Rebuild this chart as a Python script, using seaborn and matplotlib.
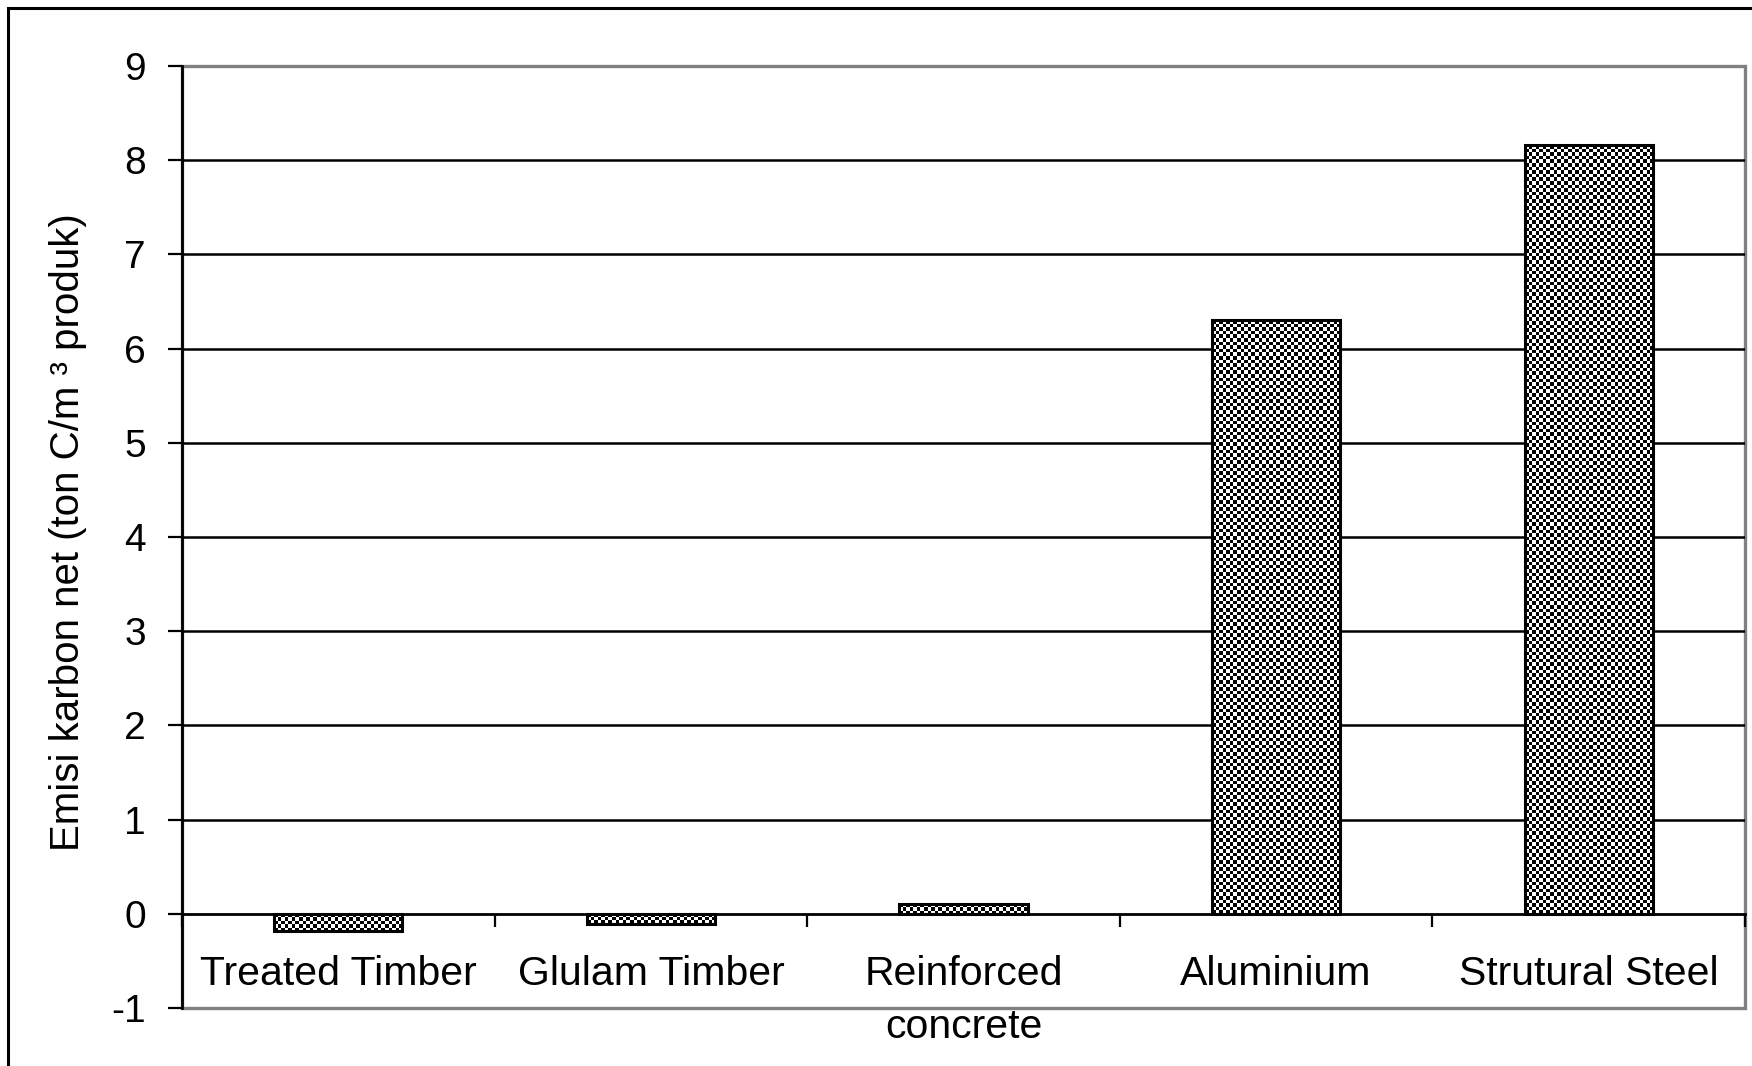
import numpy as np
import pandas as pd
import matplotlib
matplotlib.use("Agg")
import matplotlib.pyplot as plt
import seaborn as sns
from matplotlib.patches import Rectangle

# Net carbon emission per cubic metre of product
materials = ["Treated Timber", "Glulam Timber", "Reinforced\nconcrete", "Aluminium", "Strutural Steel"]
emissions = [-0.18, -0.11, 0.10, 6.30, 8.16]
y_ticks = list(range(-1, 10))

sns.set_theme(style="white")
plt.rcParams["font.family"] = ["Liberation Sans", "DejaVu Sans"]
plt.rcParams["text.color"] = "black"
plt.rcParams["axes.labelcolor"] = "black"
plt.rcParams["xtick.color"] = "black"
plt.rcParams["ytick.color"] = "black"

df = pd.DataFrame({"material": materials, "emission": emissions})

W, H = 1752, 1066
fig = plt.figure(figsize=(W / 100, H / 100), dpi=100)
fig.patch.set_facecolor("white")
ax = fig.add_axes([182 / W, 1 - 1008 / H, (1745 - 182) / W, (1008 - 66) / H])

sns.barplot(data=df, x="material", y="emission", order=materials, width=0.41,
            color="white", saturation=1, edgecolor="black", linewidth=2.2,
            ax=ax, zorder=3)

xlim = (-0.5, len(materials) - 0.5)
ylim = (y_ticks[0], y_ticks[-1])
ax.set_xlim(*xlim)
ax.set_ylim(*ylim)

# Checkerboard fill inside every bar
cell_px = 3.6
for bar in ax.patches:
    x0, w = bar.get_x(), bar.get_width()
    y0, h = bar.get_y(), bar.get_height()
    ylo, yhi = min(y0, y0 + h), max(y0, y0 + h)
    (px0, py0), (px1, py1) = ax.transData.transform([(x0, ylo), (x0 + w, yhi)])
    nx = max(1, int(round(abs(px1 - px0) / cell_px)))
    ny = max(1, int(round(abs(py1 - py0) / cell_px)))
    board = np.add.outer(np.arange(ny), np.arange(nx)) % 2
    im = ax.imshow(board, cmap="gray", vmin=0, vmax=1, extent=(x0, x0 + w, ylo, yhi),
                   interpolation="nearest", aspect="auto", zorder=2.9, origin="lower")
    im.set_clip_path(bar)
    bar.set_facecolor("none")

ax.set_xlim(*xlim)
ax.set_ylim(*ylim)
ax.set_aspect("auto")

# Horizontal gridlines
for v in y_ticks[2:-1]:
    ax.axhline(v, color="black", lw=1.8, zorder=1)

# Plot-area frame (grey) and axis lines (black)
ax.add_patch(Rectangle((0, 0), 1, 1, transform=ax.transAxes, fill=False,
                       edgecolor="#808080", lw=2.4, clip_on=False, zorder=0.5))
for s in ["top", "right"]:
    ax.spines[s].set_visible(False)
ax.spines["left"].set_color("black")
ax.spines["left"].set_linewidth(2.0)
ax.spines["bottom"].set_color("black")
ax.spines["bottom"].set_linewidth(2.0)
ax.spines["bottom"].set_position(("data", 0))
ax.spines["left"].set_zorder(4)
ax.spines["bottom"].set_zorder(4)

ax.set_yticks(y_ticks)
ax.set_yticklabels([str(v) for v in y_ticks])
ax.tick_params(axis="y", which="major", left=True, direction="out", length=10,
               width=1.6, pad=16, labelsize=28)

ax.set_xticks(range(len(materials)))
ax.set_xticklabels(materials, linespacing=1.47)
ax.set_xticks(np.arange(-0.5, len(materials), 1.0), minor=True)
ax.tick_params(axis="x", which="major", bottom=True, length=0, pad=30, labelsize=29.5)
ax.tick_params(axis="x", which="minor", bottom=True, direction="out", length=9.5, width=1.6)
for lbl in ax.get_xticklabels():
    lbl.set_verticalalignment("top")

ax.set_xlabel("")
ax.set_ylabel("Emisi karbon net (ton C/m \u00b3 produk)", fontsize=29)
ax.yaxis.set_label_coords(-0.061, 0.505)

# Outer chart frame
fig.patches.append(Rectangle((8 / W, -0.5), 2.0, 1 - 8 / H + 0.5, transform=fig.transFigure,
                             fill=False, edgecolor="black", lw=2.2))

fig.savefig("out.png", dpi=100)
